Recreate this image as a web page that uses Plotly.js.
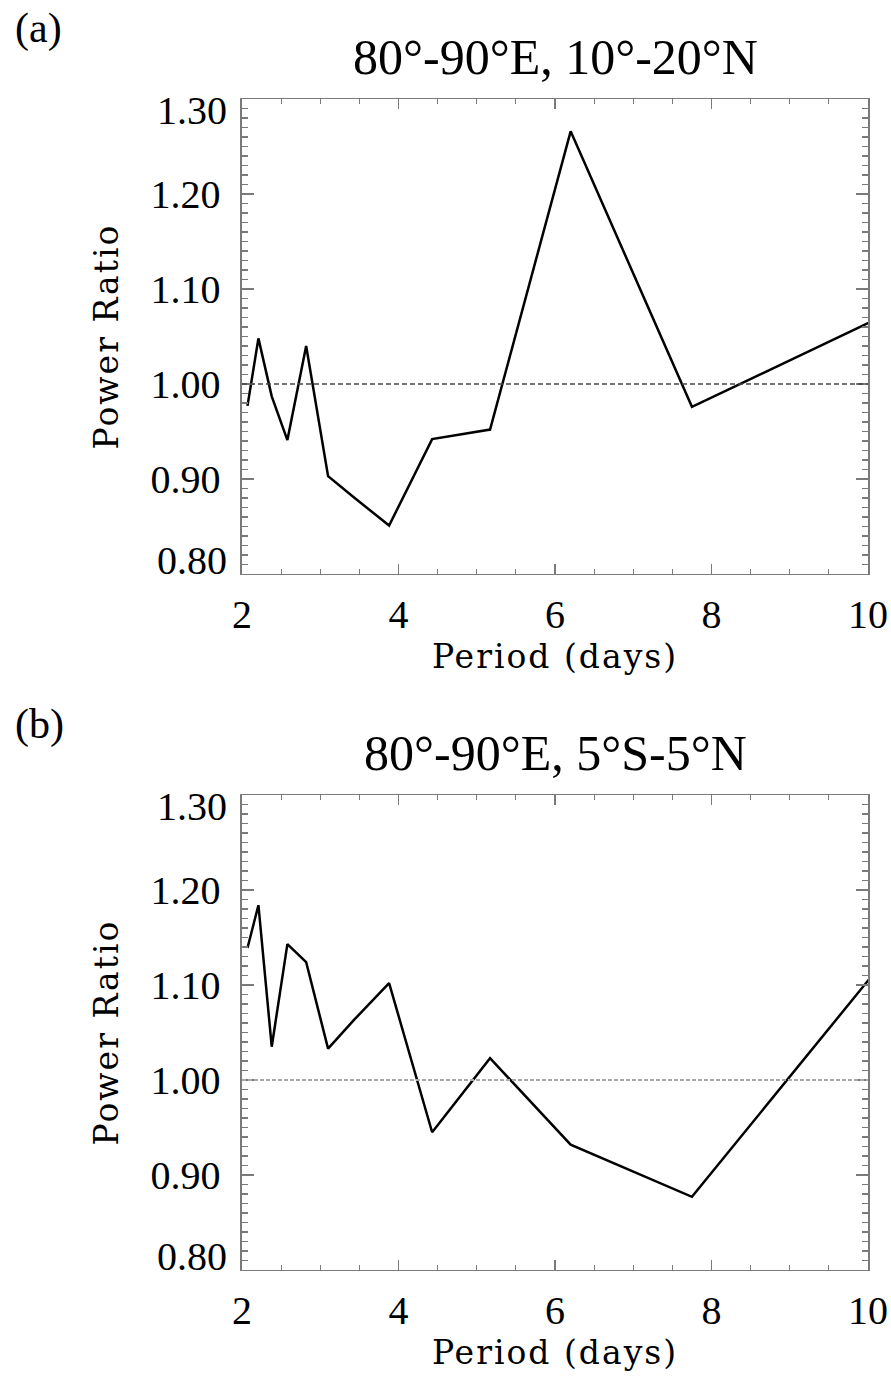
<!DOCTYPE html>
<html>
<head>
<meta charset="utf-8">
<script src="https://cdn.plot.ly/plotly-3.0.1.min.js"></script>
<style>
  html, body { margin: 0; padding: 0; background: #fff; }
  #chart { width: 891px; height: 1381px; }
  .xtitle, .x2title, .ytitle, .y2title { letter-spacing: 2px; }
</style>
</head>
<body>
<div id="chart"></div>
<script>
// ---- data ----
const periods = [2.07, 2.21, 2.38, 2.58, 2.82, 3.10, 3.44, 3.88, 4.43, 5.17, 6.20, 7.75, 10.33];
const ratioA  = [0.977, 1.048, 0.987, 0.941, 1.040, 0.903, 0.880, 0.851, 0.942, 0.952, 1.266, 0.976, 1.077];
const ratioB  = [1.139, 1.184, 1.035, 1.143, 1.124, 1.033, 1.064, 1.102, 0.945, 1.023, 0.932, 0.877, 1.138];
const panelTitles = ["80°-90°E, 10°-20°N", "80°-90°E, 5°S-5°N"];
const panelLetters = ["(a)", "(b)"];
const xTickVals = [2, 4, 6, 8, 10];
const yTickVals = [0.80, 0.90, 1.00, 1.10, 1.20, 1.30];
const yTickText = ["", "0.90", "1.00", "1.10", "1.20", ""];
const yEndLabels = ["0.80", "1.30"];
const refLevel = 1.00;
const xRange = [2, 10];
const yRange = [0.80, 1.30];

// ---- styling ----
const frameColor = "#7a7a7a";
const tickFont = {family: "Liberation Serif", size: 40, color: "#000"};
const axTitleFont = {family: "DejaVu Serif", size: 33, color: "#000"};

function xAxis(anchor) {
  return {
    anchor: anchor, domain: [0.2716, 0.9742], range: xRange,
    tickmode: "array", tickvals: xTickVals,
    ticks: "inside", ticklen: 10, tickwidth: 1.2, tickcolor: frameColor,
    minor: {tickmode: "linear", tick0: 2, dtick: 0.5, ticks: "inside", ticklen: 5, tickwidth: 1.2, tickcolor: frameColor, showgrid: false},
    showline: true, linecolor: frameColor, linewidth: 1.5, mirror: "ticks",
    showgrid: false, zeroline: false, tickfont: tickFont, ticklabelstandoff: 5,
    title: {text: "Period (days)", font: axTitleFont, standoff: 6},
    automargin: false, fixedrange: true
  };
}
function yAxis(anchor, domain) {
  return {
    anchor: anchor, domain: domain, range: yRange,
    tickmode: "array", tickvals: yTickVals, ticktext: yTickText,
    ticks: "inside", ticklen: 12, tickwidth: 1.2, tickcolor: frameColor,
    minor: {tickmode: "linear", tick0: 0.8, dtick: 0.01, ticks: "inside", ticklen: 6, tickwidth: 1.2, tickcolor: frameColor, showgrid: false},
    showline: true, linecolor: frameColor, linewidth: 1.5, mirror: "ticks",
    showgrid: false, zeroline: false, tickfont: tickFont, ticklabelstandoff: 12,
    title: {text: "Power Ratio", font: axTitleFont, standoff: 22},
    automargin: false, fixedrange: true
  };
}

const traces = [
  {x: periods, y: ratioA, xaxis: "x", yaxis: "y", type: "scatter", mode: "lines",
   line: {color: "#000", width: 2.5}, hoverinfo: "skip"},
  {x: periods, y: ratioB, xaxis: "x2", yaxis: "y2", type: "scatter", mode: "lines",
   line: {color: "#000", width: 2.5}, hoverinfo: "skip"}
];

const annotations = [];
const axPairs = [["x", "y"], ["x2", "y2"]];
const titleY = [0.95872, 0.45474];
const letterY = [0.97936, 0.47538];
axPairs.forEach(function (p, i) {
  annotations.push({text: panelTitles[i], xref: p[0] + " domain", x: 0.5, yref: "paper", y: titleY[i],
    xanchor: "center", yanchor: "middle", showarrow: false,
    font: {family: "Liberation Serif", size: 50, color: "#000"}});
  annotations.push({text: panelLetters[i], xref: "paper", x: 0.0146, yref: "paper", y: letterY[i],
    xanchor: "left", yanchor: "middle", showarrow: false,
    font: {family: "Liberation Serif", size: 42, color: "#000"}});
  annotations.push({text: yEndLabels[1], xref: p[0] + " domain", x: 0, yref: p[1], y: yRange[1],
    xanchor: "right", yanchor: "top", xshift: -13, yshift: 13, showarrow: false, font: tickFont});
  annotations.push({text: yEndLabels[0], xref: p[0] + " domain", x: 0, yref: p[1], y: yRange[0],
    xanchor: "right", yanchor: "bottom", xshift: -13, yshift: -11, showarrow: false, font: tickFont});
});

const shapes = [
  {type: "line", xref: "x domain", x0: 0, x1: 1, yref: "y", y0: refLevel, y1: refLevel,
   line: {color: "#444", width: 1.3, dash: "5px,3px"}},
  {type: "line", xref: "x2 domain", x0: 0, x1: 1, yref: "y2", y0: refLevel, y1: refLevel,
   line: {color: "#aaa", width: 2, dash: "4px,2px"}}
];

const layout = {
  width: 891, height: 1381,
  margin: {l: 0, r: 0, t: 0, b: 0},
  paper_bgcolor: "#fff", plot_bgcolor: "#fff",
  showlegend: false,
  xaxis: xAxis("y"),
  yaxis: yAxis("x", [0.58436, 0.92831]),
  xaxis2: xAxis("y2"),
  yaxis2: yAxis("x2", [0.08038, 0.42433]),
  annotations: annotations,
  shapes: shapes
};

Plotly.newPlot("chart", traces, layout, {staticPlot: true, displayModeBar: false});
</script>
</body>
</html>
